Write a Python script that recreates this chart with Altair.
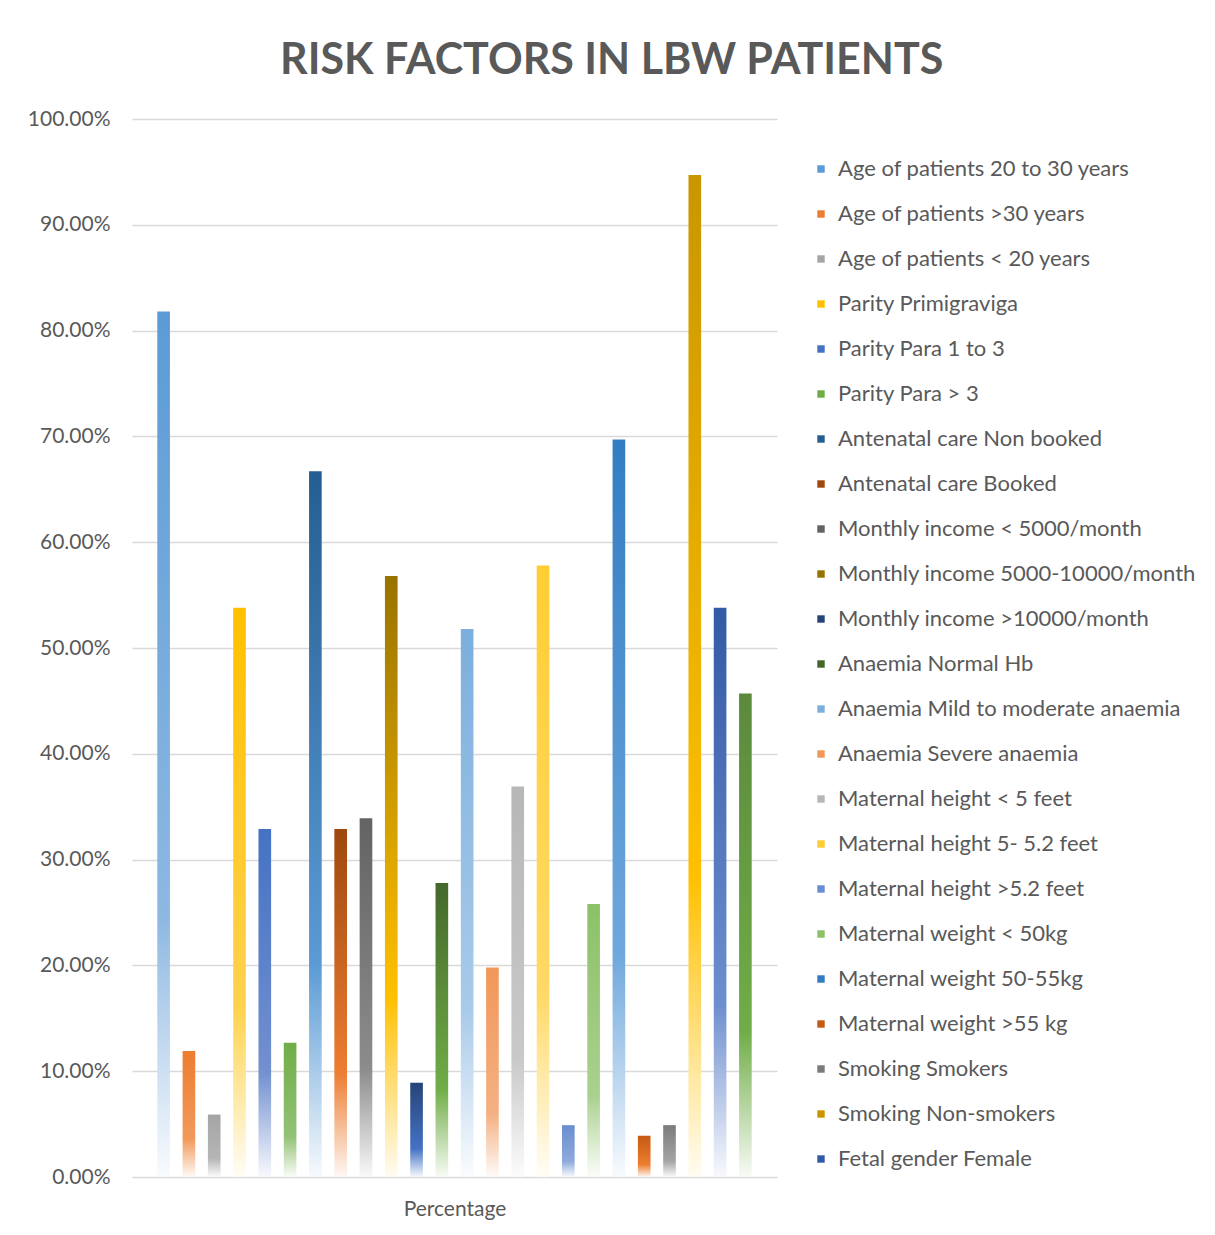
import altair as alt
import pandas as pd

categories = [
    "Age of patients 20 to 30 years", "Age of patients >30 years", "Age of patients < 20 years",
    "Parity Primigraviga", "Parity Para 1 to 3", "Parity Para > 3",
    "Antenatal care Non booked", "Antenatal care Booked",
    "Monthly income < 5000/month", "Monthly income 5000-10000/month", "Monthly income >10000/month",
    "Anaemia Normal Hb", "Anaemia Mild to moderate anaemia", "Anaemia Severe anaemia",
    "Maternal height < 5 feet", "Maternal height 5- 5.2 feet", "Maternal height >5.2 feet",
    "Maternal weight < 50kg", "Maternal weight 50-55kg", "Maternal weight >55 kg",
    "Smoking Smokers", "Smoking Non-smokers",
    "Fetal gender Female", "Fetal gender Male",
]
values = [0.818, 0.119, 0.059, 0.538, 0.329, 0.127, 0.667, 0.329, 0.339, 0.568, 0.089, 0.278,
          0.518, 0.198, 0.369, 0.578, 0.049, 0.258, 0.697, 0.039, 0.049, 0.947, 0.538, 0.457]
# number of legend entries visible in the original (last one is cut off)
legend_count = 23

top_colors = ["#5B9BD5", "#ED7D31", "#A5A5A5", "#FFC000", "#4472C4", "#70AD47",
              "#255E91", "#9E480E", "#636363", "#997300", "#264478", "#43682B",
              "#7CAFDD", "#F1975A", "#B7B7B7", "#FFCD33", "#698ED0", "#8CC168",
              "#327DC2", "#C55A11", "#7B7B7B", "#C99600", "#335AA6", "#5B8A3C"]
mid_colors = ["#8DB8E2", "#F19A5C", "#B5B5B5", "#FFD24D", "#7390D0", "#93C277",
              "#5B9BD5", "#ED7D31", "#8C8C8C", "#FFC000", "#4472C4", "#70AD47",
              "#A9CBEA", "#F4B183", "#C9C9C9", "#FFD966", "#8FAADC", "#A9D18E",
              "#6FA8DC", "#ED7D31", "#A5A5A5", "#FFC000", "#6E8FCF", "#70AD47"]


def tint(hexc, f):
    h = hexc.lstrip("#")
    r, g, b = (int(h[i:i + 2], 16) for i in (0, 2, 4))
    r, g, b = (round(c + (255 - c) * f) for c in (r, g, b))
    return "#%02X%02X%02X" % (r, g, b)


df = pd.DataFrame({"idx": list(range(len(categories))), "category": categories, "value": values})

FONT = "Lato"
TXT = "#595959"

x_enc = alt.X(
    "idx:O",
    scale=alt.Scale(domain=list(range(len(categories))), paddingInner=0.5, paddingOuter=1),
    axis=alt.Axis(labels=False, ticks=False, domain=False, grid=False, title="Percentage",
                  titleFont=FONT, titleFontSize=21, titleFontWeight="normal", titleColor=TXT,
                  titlePadding=21),
)
y_enc = alt.Y(
    "value:Q",
    scale=alt.Scale(domain=[0, 1]),
    axis=alt.Axis(values=[i / 10 for i in range(11)], format=".2%", labelFont=FONT, labelFontSize=21,
                  labelColor=TXT, domain=False, ticks=False, tickSize=0, labelPadding=22,
                  gridColor="#D9D9D9", gridWidth=1.5, title=None),
)

base = alt.Chart(df)
layers = []
for i in range(len(categories)):
    grad = alt.Gradient(
        gradient="linear", x1=0, x2=0, y1=0, y2=1,
        stops=[
            alt.GradientStop(color=top_colors[i], offset=0),
            alt.GradientStop(color=mid_colors[i], offset=0.7),
            alt.GradientStop(color=tint(mid_colors[i], 0.95), offset=1),
        ],
    )
    layers.append(
        base.transform_filter(alt.datum.idx == i).mark_bar(color=grad).encode(x=x_enc, y=y_enc)
    )

legend_layer = base.transform_filter(alt.datum.idx < legend_count).mark_bar(opacity=0).encode(
    x=x_enc,
    y=y_enc,
    color=alt.Color(
        "category:N",
        sort=categories[:legend_count],
        scale=alt.Scale(domain=categories[:legend_count], range=top_colors[:legend_count]),
        legend=alt.Legend(
            title=None, orient="none", legendX=678, legendY=39,
            labelFont=FONT, labelFontSize=22, labelColor=TXT, labelLimit=500,
            symbolType="square", symbolSize=55, symbolOpacity=1, symbolStrokeWidth=0,
            rowPadding=23, labelOffset=6,
        ),
    ),
)

chart = alt.layer(*layers, legend_layer).properties(
    width=645, height=1058,
    background="white",
    title=alt.TitleParams("RISK FACTORS IN LBW PATIENTS", font=FONT, fontSize=43, fontWeight="bold",
                          color=TXT, anchor="middle", frame="bounds", offset=25),
    padding={"left": 19, "top": 32, "right": 5, "bottom": 5},
).configure_view(strokeWidth=0, stroke="transparent")

chart.save("out.html", embed_options={"renderer": "svg", "actions": False})
